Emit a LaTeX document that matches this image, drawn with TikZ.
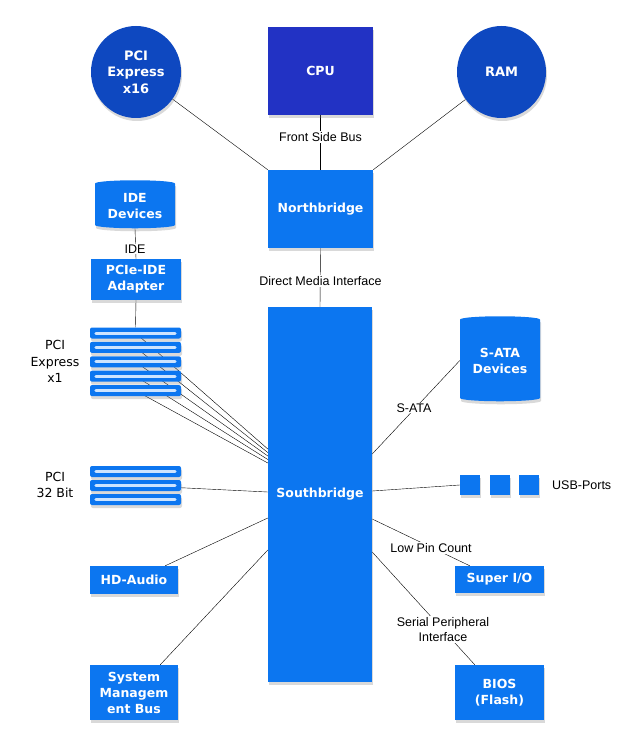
\documentclass[tikz,border=0pt]{standalone}
\usepackage{fontspec}
\setmainfont{DejaVu Sans}
\newfontfamily\labelfont{Liberation Sans}
\usetikzlibrary{shapes.geometric,shadows,backgrounds}
\definecolor{cpublue}{RGB}{34,50,196}
\definecolor{discblue}{RGB}{14,72,192}
\definecolor{boxblue}{RGB}{12,118,240}
\definecolor{slotwhite}{RGB}{205,228,255}
\begin{document}
\begin{tikzpicture}[x=1pt,y=-1pt,
  shade/.style={drop shadow={opacity=0.3,shadow xshift=1pt,shadow yshift=-3pt}},
  box/.style={rectangle,fill=boxblue,text=white,inner sep=0pt,align=center,shade,
    font=\fontsize{12.5}{16}\selectfont\bfseries},
  disc/.style={ellipse,fill=discblue,text=white,inner sep=0pt,align=center,shade,
    font=\fontsize{13}{16.5}\selectfont\bfseries},
  drum/.style={cylinder,shape border rotate=90,fill=boxblue,text=white,inner sep=0pt,
    align=center,shade,font=\fontsize{12.5}{16}\selectfont\bfseries},
  slot/.style={rectangle,rounded corners=2pt,fill=boxblue,minimum width=91,minimum height=11,
    inner sep=0pt,shade},
  slotline/.style={slotwhite,line width=3pt,line cap=round},
  busname/.style={fill=white,inner sep=1pt,align=center,font=\labelfont\fontsize{12.5}{15}\selectfont},
  slotname/.style={align=center,inner sep=0pt,font=\fontsize{12.5}{16.5}\selectfont}]
\useasboundingbox (0,0) rectangle (637,741);

% top row
\node[disc,minimum width=90,minimum height=92] (pcie16) at (136,72) {PCI\\Express\\x16};
\node[box,fill=cpublue,minimum width=105,minimum height=88] (cpu) at (320.5,71) {CPU};
\node[disc,minimum width=89,minimum height=92] (ram) at (501.5,72) {RAM};
\node[box,minimum width=105,minimum height=78] (nb) at (320.5,209) {Northbridge};
\node[busname] (fsb) at (320.5,137) {Front Side Bus};
\node[busname] (dmi) at (320.5,281) {Direct Media Interface};

% left column
\node[drum,minimum width=80,minimum height=48,aspect=0.12] (ide) at (135,206) {IDE\\Devices};
\node[busname] (idebus) at (135,249) {IDE};
\node[box,minimum width=90,minimum height=41] (adapter) at (136,279.5) {PCIe-IDE\\Adapter};
\foreach \i/\y in {1/333,2/347.4,3/361.8,4/376.2,5/390.6}{
  \node[slot] (xslot\i) at (135.5,\y) {};
  \draw[slotline] ([xshift=6pt]xslot\i.west) -- ([xshift=-6pt]xslot\i.east);
}
\node[slotname] (xname) at (55,361.5) {PCI\\Express\\x1};
\foreach \i/\y in {1/471.5,2/485.5,3/499.5}{
  \node[slot] (pslot\i) at (135.5,\y) {};
  \draw[slotline] ([xshift=6pt]pslot\i.west) -- ([xshift=-6pt]pslot\i.east);
}
\node[slotname] (pname) at (55,485) {PCI\\32 Bit};
\node[box,minimum width=88,minimum height=28] (hda) at (134,580) {HD-Audio};
\node[box,minimum width=88,minimum height=55] (smb) at (134,692.5) {System\\Managem\\ent Bus};

% southbridge
\node[box,minimum width=104,minimum height=375] (sb) at (320,494.5) {Southbridge};

% right column
\node[drum,minimum width=80,minimum height=85,aspect=0.12] (sata) at (500,360.5) {S-ATA\\Devices};
\node[busname] (satabus) at (414,408) {S-ATA};
\foreach \i/\x in {1/470,2/499.5,3/529}
  \node[box,minimum width=20,minimum height=20] (usb\i) at (\x,485) {};
\node[slotname,font=\labelfont\fontsize{12.5}{15}\selectfont,anchor=west] (usbname) at (552,485) {USB-Ports};
\node[busname] (lpc) at (431,548) {Low Pin Count};
\node[box,minimum width=89,minimum height=27] (superio) at (499.5,579.5) {Super I/O};
\node[busname] (spi) at (443,629.5) {Serial Peripheral\\Interface};
\node[box,minimum width=89,minimum height=55] (bios) at (499.5,692.5) {BIOS\\(Flash)};

\begin{scope}[on background layer,line width=0.8pt]
\draw (pcie16) -- (nb.north west);
\draw (ram) -- (nb.north east);
\draw[line width=1.5pt] (cpu.south) -- (nb.north);
\draw (nb.south) -- (sb.north);
\draw (ide.south) -- (adapter.north);
\draw (adapter.south) -- (xslot1.north);
\foreach \i/\s in {1/45.5,2/42,3/38.5,4/35,5/31.5}
  \draw (xslot\i.center) -- ([yshift=\s pt]sb.west);
\draw (pslot2.center) -- ([yshift=2.5pt]sb.west);
\draw ([xshift=-13pt]hda.north east) -- ([yshift=-23.5pt]sb.west);
\draw ([xshift=-18pt]smb.north east) -- ([yshift=-55.5pt]sb.west);
\draw ([yshift=40.5pt]sb.east) -- (sata.west);
\draw ([yshift=3.5pt]sb.east) -- (usb1.west);
\draw ([yshift=-24.5pt]sb.east) -- ([xshift=15pt]superio.north west);
\draw ([yshift=-57.5pt]sb.east) -- ([xshift=20pt]bios.north west);
\end{scope}
\end{tikzpicture}
\end{document}
